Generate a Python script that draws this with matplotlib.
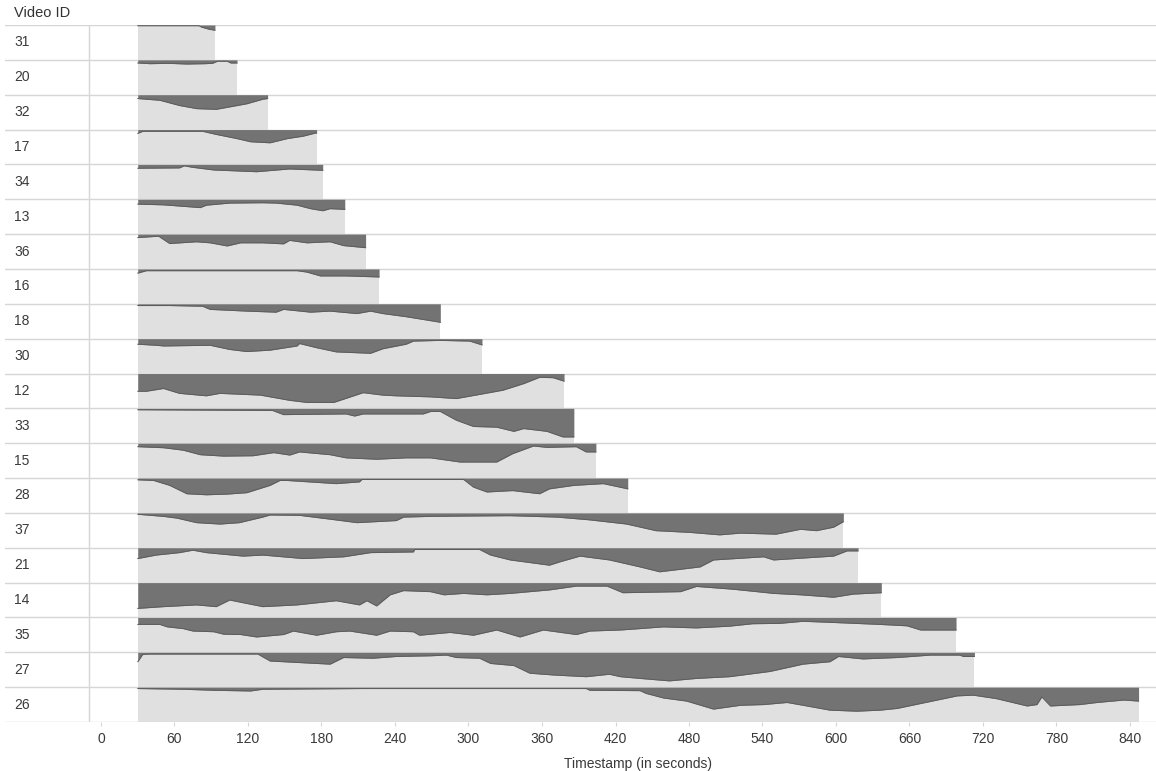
import matplotlib
matplotlib.use('Agg')
import matplotlib.pyplot as plt
import numpy as np

plt.rcParams['font.family'] = ['Liberation Sans', 'DejaVu Sans']

# Video IDs top to bottom
video_ids = ['31', '20', '32', '17', '34', '13', '36', '16', '18', '30',
             '12', '33', '15', '28', '37', '21', '14', '35', '27', '26']

# Drop profile per video: timestamps (s) and drop depth (% of row height)
t_31 = [30, 80, 82, 88, 93]
d_31 = [2, 2, 6, 12, 15]
t_20 = [30, 40, 55, 70, 85, 91, 95, 103, 106, 111]
d_20 = [9, 11, 10, 12, 11, 10, 4, 4, 9, 9]
t_32 = [30, 48, 64, 78, 94, 105, 119, 132, 136]
d_32 = [11, 16, 31, 40, 42, 35, 26, 13, 11]
t_17 = [30, 34, 51, 83, 94, 111, 122, 138, 152, 165, 175, 176]
d_17 = [11, 5, 5, 5, 14, 26, 35, 38, 26, 19, 10, 10]
t_34 = [30, 64, 68, 74, 92, 127, 154, 181]
d_34 = [11, 10, 4, 8, 16, 21, 13, 17]
t_13 = [30, 51, 81, 86, 105, 132, 143, 160, 171, 181, 187, 199]
d_13 = [14, 16, 24, 17, 11, 10, 11, 17, 27, 33, 27, 29]
t_36 = [30, 47, 56, 78, 89, 103, 114, 132, 149, 154, 168, 187, 198, 216]
d_36 = [10, 6, 27, 22, 25, 34, 25, 25, 28, 18, 25, 22, 33, 39]
t_16 = [30, 37, 100, 160, 168, 179, 200, 227]
d_16 = [12, 5, 5, 5, 9, 20, 20, 23]
t_18 = [30, 56, 83, 89, 119, 143, 149, 171, 187, 209, 220, 230, 249, 277]
d_18 = [5, 5, 7, 16, 21, 24, 16, 24, 21, 28, 21, 28, 37, 53]
t_30 = [30, 45, 51, 89, 105, 119, 138, 160, 162, 176, 192, 220, 230, 249,
        255, 277, 301, 311]
d_30 = [16, 19, 21, 19, 31, 37, 33, 21, 14, 26, 38, 42, 29, 16, 7, 5, 7, 18]
t_12 = [30, 37, 51, 64, 86, 97, 130, 154, 168, 190, 214, 230, 241, 269,
        290, 309, 328, 345, 358, 369, 378]
d_12 = [51, 51, 43, 57, 64, 57, 62, 77, 83, 83, 55, 62, 64, 67, 72, 60, 48,
        29, 11, 12, 22]
t_33 = [30, 140, 149, 200, 207, 214, 263, 269, 277, 290, 304, 323, 337, 345,
        364, 377, 386]
d_33 = [4, 6, 18, 16, 22, 16, 16, 9, 9, 34, 52, 54, 66, 58, 66, 82, 82]
t_15 = [30, 51, 67, 81, 100, 124, 141, 154, 162, 187, 200, 225, 249, 269,
        293, 323, 336, 353, 364, 388, 396, 404]
d_15 = [10, 13, 20, 33, 37, 36, 27, 34, 25, 33, 42, 46, 42, 42, 54, 54, 30,
        8, 12, 10, 25, 25]
t_28 = [30, 43, 56, 70, 86, 103, 119, 138, 146, 152, 192, 211, 213, 296,
        304, 315, 336, 358, 366, 386, 410, 430]
d_28 = [5, 7, 21, 45, 48, 46, 42, 21, 7, 7, 16, 11, 4, 4, 26, 40, 36, 45,
        31, 21, 16, 31]
t_37 = [30, 51, 62, 78, 97, 113, 132, 138, 162, 187, 209, 241, 247, 269,
        296, 334, 353, 372, 399, 429, 453, 481, 505, 522, 551, 571, 584, 598,
        606]
d_37 = [4, 10, 15, 28, 32, 28, 12, 6, 7, 18, 28, 22, 12, 10, 9, 8, 10, 12,
        20, 32, 51, 56, 63, 58, 61, 47, 51, 41, 25]
t_21 = [30, 45, 64, 75, 86, 116, 132, 165, 198, 220, 255, 256, 309, 318,
        334, 366, 375, 391, 415, 440, 456, 489, 500, 541, 549, 598, 609, 618]
d_21 = [31, 21, 14, 7, 14, 24, 21, 31, 26, 14, 12, 5, 5, 21, 35, 50, 40, 24,
        35, 55, 69, 55, 35, 26, 35, 24, 9, 9]
t_14 = [30, 51, 78, 94, 105, 132, 160, 192, 211, 217, 225, 236, 247, 269,
        280, 296, 315, 334, 366, 388, 413, 426, 473, 486, 516, 549, 571, 598,
        614, 637]
d_14 = [74, 69, 64, 69, 50, 69, 64, 52, 64, 52, 67, 35, 23, 26, 35, 31, 35,
        31, 21, 10, 10, 29, 26, 11, 19, 31, 35, 42, 33, 29]
t_35 = [30, 48, 54, 67, 75, 92, 100, 114, 127, 149, 157, 176, 192, 203, 225,
        236, 255, 260, 285, 304, 323, 342, 361, 388, 399, 424, 440, 459, 486,
        513, 532, 554, 573, 595, 636, 658, 669, 698]
d_35 = [20, 20, 27, 32, 39, 41, 48, 49, 56, 49, 39, 51, 41, 39, 51, 39, 41,
        51, 43, 51, 36, 56, 36, 49, 39, 36, 32, 27, 30, 25, 18, 17, 11, 14,
        20, 24, 36, 36]
t_27 = [30, 34, 40, 128, 138, 165, 187, 198, 222, 241, 269, 282, 290, 309,
        318, 337, 350, 369, 396, 415, 424, 440, 464, 486, 513, 546, 573, 595,
        602, 622, 650, 677, 701, 704, 713]
d_27 = [27, 6, 5, 5, 25, 30, 34, 15, 17, 12, 10, 8, 15, 17, 32, 38, 60, 65,
        70, 63, 70, 75, 82, 75, 70, 55, 34, 27, 12, 19, 15, 8, 8, 12, 12]
t_26 = [30, 67, 92, 122, 132, 214, 396, 399, 440, 445, 459, 478, 500, 522,
        541, 560, 573, 595, 617, 636, 650, 669, 699, 712, 731, 756, 764, 768,
        775, 799, 813, 835, 847]
d_26 = [4, 6, 9, 11, 6, 4, 4, 9, 10, 18, 31, 40, 63, 52, 50, 44, 52, 66, 69,
        66, 61, 47, 25, 23, 33, 54, 50, 28, 54, 50, 44, 37, 40]

profiles = [
    (t_31, d_31), (t_20, d_20), (t_32, d_32), (t_17, d_17), (t_34, d_34),
    (t_13, d_13), (t_36, d_36), (t_16, d_16), (t_18, d_18), (t_30, d_30),
    (t_12, d_12), (t_33, d_33), (t_15, d_15), (t_28, d_28), (t_37, d_37),
    (t_21, d_21), (t_14, d_14), (t_35, d_35), (t_27, d_27), (t_26, d_26),
]

xticks = list(range(0, 841, 60))

LIGHT = '#e0e0e0'
DARK = '#737373'
EDGE = '#5c5c5c'
GRID = '#d6d6d6'
TEXT = '#3a3a3a'

fig = plt.figure(figsize=(11.56, 7.71), dpi=100)
ax = fig.add_axes([5 / 1156, 1 - 722 / 771, 1151 / 1156, (722 - 25) / 771])

n = len(video_ids)
for i, (t, d) in enumerate(profiles):
    t = np.array(t, dtype=float)
    y = i + np.array(d, dtype=float) / 100.0
    ax.fill_between(t, i, i + 1, color=LIGHT, lw=0, zorder=1)
    ax.fill_between(t, i, y, color=DARK, lw=0, zorder=3)
    ax.plot(t, y, color=EDGE, lw=0.7, zorder=3)
    ax.text(-71, i + 0.5, video_ids[i], ha='left', va='center',
            fontsize=10, color=TEXT)

# row separators sit under the dark band so its top edge shows
for k in range(n + 1):
    ax.axhline(k, color=GRID, lw=1, zorder=2)
ax.plot([-10, -10], [0, n], color=GRID, lw=1, zorder=2)

ax.set_xlim((5 - 101) / 1.225, (1156 - 101) / 1.225)
ax.set_ylim(n, 0)
ax.set_yticks([])
ax.set_xticks(xticks)
ax.set_xticklabels([str(v) for v in xticks], fontsize=10, color=TEXT)
ax.tick_params(axis='x', length=3, color=GRID, pad=4)
for s in ax.spines.values():
    s.set_visible(False)

ax.set_xlabel('Timestamp (in seconds)', fontsize=10, color=TEXT)
ax.xaxis.set_label_coords((638 - 5) / 1151, -0.05)
fig.text(14 / 1156, 1 - 13 / 771, 'Video ID', ha='left', va='center',
         fontsize=10.5, color='#333333')

fig.savefig('out.png', dpi=100)
